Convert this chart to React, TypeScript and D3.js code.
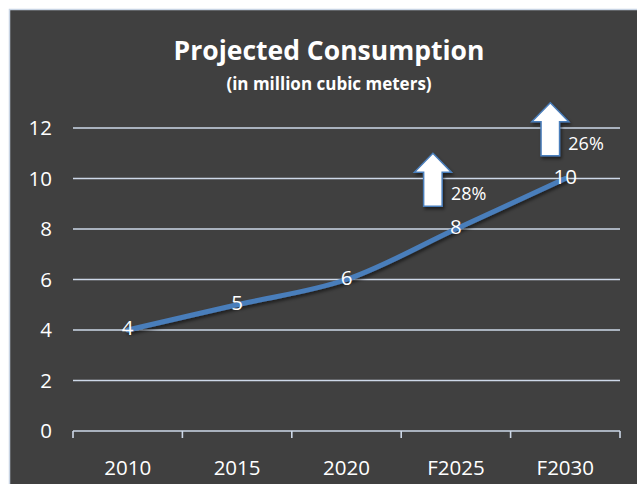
import React from "react";
import * as d3 from "d3";

const categories = ["2010", "2015", "2020", "F2025", "F2030"];
const values = [4, 5, 6, 8, 10];
const yTicks = [0, 2, 4, 6, 8, 10, 12];
const arrowCategories = ["F2025", "F2030"];
const arrowTips = [11, 13];
const arrowLabels = ["28%", "26%"];
const arrowOffsets = [-23, -15];

const W = 637;
const H = 484;
const FONT = "'Open Sans', 'Liberation Sans', sans-serif";

export default function App() {
  const x = d3.scaleBand<string>().domain(categories).range([73, 620]);
  const y = d3.scaleLinear().domain([0, 12]).range([431, 128]);
  const line = d3
    .line<number>()
    .x((_, i) => (x(categories[i]) as number) + x.bandwidth() / 2)
    .y((d) => y(d))
    .curve(d3.curveCatmullRom.alpha(0.5));

  const headH = 19;
  const headW = 37;
  const shaftW = 18.5;
  const arrowLen = 53;

  return (
    <svg
      width={W}
      height={H}
      style={{ position: "absolute", left: 0, top: 0, display: "block" }}
    >
      <defs>
        <filter id="sh" x="-20%" y="-20%" width="140%" height="160%">
          <feDropShadow dx="1.5" dy="2.5" stdDeviation="1.5" floodColor="#000" floodOpacity="0.5" />
        </filter>
      </defs>
      <rect x={0} y={0} width={W} height={H} fill="#ffffff" />
      <rect x={9.5} y={9.5} width={W} height={H} fill="#404040" stroke="#c8d4e4" strokeWidth={1.5} />

      <text x={329} y={60} textAnchor="middle" fill="#ffffff" fontFamily={FONT} fontWeight="bold" fontSize={26.5}>
        Projected Consumption
      </text>
      <text x={329} y={90} textAnchor="middle" fill="#ffffff" fontFamily={FONT} fontWeight="bold" fontSize={17}>
        (in million cubic meters)
      </text>

      {yTicks.filter((t) => t > 0).map((t) => (
        <line key={"g" + t} x1={73} x2={620} y1={y(t)} y2={y(t)} stroke="#cdd8e8" strokeWidth={1.6} />
      ))}
      {yTicks.map((t) => (
        <text key={"yt" + t} x={52} y={y(t)} dy="0.36em" textAnchor="end" fill="#ffffff" fontFamily={FONT} fontSize={20.5}>
          {t}
        </text>
      ))}

      <line x1={73} x2={620} y1={y(0)} y2={y(0)} stroke="#cdd8e8" strokeWidth={1.6} />
      {[...categories.map((c) => x(c) as number), 620].map((px, i) => (
        <line key={"tk" + i} x1={px} x2={px} y1={y(0)} y2={y(0) + 7} stroke="#cdd8e8" strokeWidth={1.6} />
      ))}
      {categories.map((c) => (
        <text
          key={"xt" + c}
          x={(x(c) as number) + x.bandwidth() / 2}
          y={468}
          dy="0.36em"
          textAnchor="middle"
          fill="#ffffff"
          fontFamily={FONT}
          fontSize={20.5}
        >
          {c}
        </text>
      ))}

      <path d={line(values) || ""} fill="none" stroke="#4a7ebb" strokeWidth={5} strokeLinecap="round" filter="url(#sh)" />

      {values.map((v, i) => (
        <text
          key={"dl" + i}
          x={(x(categories[i]) as number) + x.bandwidth() / 2}
          y={y(v) - 2}
          dy="0.36em"
          textAnchor="middle"
          fill="#ffffff"
          fontFamily={FONT}
          fontSize={20.5}
        >
          {v}
        </text>
      ))}

      {arrowCategories.map((c, i) => {
        const cx = (x(c) as number) + x.bandwidth() / 2 + arrowOffsets[i];
        const ty = y(arrowTips[i]);
        const by = ty + arrowLen;
        const hy = ty + headH;
        const pts = [
          [cx, ty],
          [cx + headW / 2, hy],
          [cx + shaftW / 2, hy],
          [cx + shaftW / 2, by],
          [cx - shaftW / 2, by],
          [cx - shaftW / 2, hy],
          [cx - headW / 2, hy],
        ];
        return (
          <g key={"ar" + c}>
            <polygon
              points={pts.map((p) => p.join(",")).join(" ")}
              fill="#ffffff"
              stroke="#4a7ebb"
              strokeWidth={1.5}
              strokeLinejoin="miter"
              filter="url(#sh)"
            />
            <text x={cx + 18} y={by - 6} fill="#ffffff" fontFamily={FONT} fontSize={18}>
              {arrowLabels[i]}
            </text>
          </g>
        );
      })}
    </svg>
  );
}
